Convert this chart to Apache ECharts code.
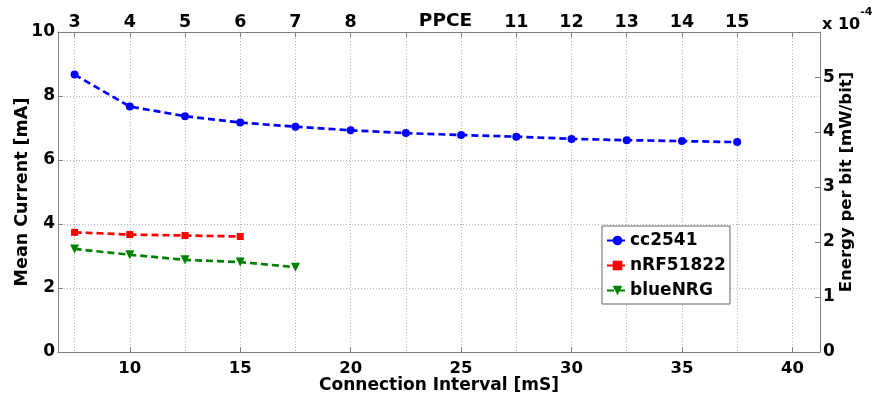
<!DOCTYPE html>
<html><head><meta charset="utf-8">
<script src="https://cdn.jsdelivr.net/npm/echarts@6/dist/echarts.min.js"></script>
<style>html,body{margin:0;padding:0;background:#fff}#c{width:872px;height:399px}</style>
</head><body><div id="c"></div>
<script>
// Connection interval (mS) for each measured point
const xCC = [7.5, 10, 12.5, 15, 17.5, 20, 22.5, 25, 27.5, 30, 32.5, 35, 37.5];
const yCC = [8.67, 7.67, 7.37, 7.17, 7.04, 6.93, 6.84, 6.78, 6.73, 6.66, 6.62, 6.59, 6.56];
const xNRF = [7.5, 10, 12.5, 15];
const yNRF = [3.74, 3.67, 3.64, 3.61];
const xBLUE = [7.5, 10, 12.5, 15, 17.5];
const yBLUE = [3.22, 3.04, 2.88, 2.81, 2.65];

const bottomTicks = [10, 15, 20, 25, 30, 35, 40];
const topTicks = [7.5, 10, 12.5, 15, 17.5, 20, 22.5, 25, 27.5, 30, 32.5, 35, 37.5, 40];
const topLabels = ['3', '4', '5', '6', '7', '8', '', '', '11', '12', '13', '14', '15', ''];
const rightTicks = [0, 1, 2, 3, 4, 5];
const seriesNames = ['cc2541', 'nRF51822', 'blueNRG'];

const FONT = 'DejaVu Sans';
const AXC = '#808080';
const zip = (xs, ys) => xs.map((x, i) => [x, ys[i]]);

const chart = echarts.init(document.getElementById('c'), null, {renderer: 'canvas'});
const lbl = (s) => ({color: '#000', fontFamily: FONT, fontWeight: 'bold', fontSize: s});
const dashed = (c) => ({color: c, width: 2.7, type: [7, 4]});

chart.setOption({
  animation: false,
  backgroundColor: '#fff',
  grid: {left: 58, right: 52, top: 32, bottom: 47, containLabel: false, outerBoundsMode: 'none'},
  xAxis: [{
    type: 'value', position: 'bottom', min: 6.75, max: 41.25,
    axisLine: {show: true, onZero: false, lineStyle: {color: AXC, width: 1}},
    axisTick: {show: true, inside: true, length: 5, customValues: bottomTicks, lineStyle: {color: AXC}},
    axisLabel: Object.assign({margin: 8, customValues: bottomTicks}, lbl(16.5)),
    splitLine: {show: false},
    name: 'Connection Interval [mS]', nameLocation: 'middle', nameGap: 25, nameMoveOverlap: false,
    nameTextStyle: lbl(17)
  }, {
    type: 'value', position: 'top', min: 6.75, max: 41.25,
    axisLine: {show: true, onZero: false, lineStyle: {color: AXC, width: 1}},
    axisTick: {show: true, inside: true, length: 5, customValues: topTicks, lineStyle: {color: AXC}},
    axisLabel: Object.assign({margin: 1, customValues: topTicks,
      formatter: (v) => { const i = topTicks.indexOf(v); return i >= 0 ? topLabels[i] : ''; }}, lbl(17.5)),
    splitLine: {show: true, lineStyle: {color: '#b4b4b4', width: 1, type: [1, 2]}},
    name: 'PPCE', nameLocation: 'middle', nameGap: 1, nameMoveOverlap: false,
    nameTextStyle: Object.assign(lbl(18.5), {padding: [0, 0, 0, 13]})
  }],
  yAxis: [{
    type: 'value', position: 'left', min: 0, max: 10, interval: 2,
    axisLine: {show: true, lineStyle: {color: AXC, width: 1}},
    axisTick: {show: true, inside: true, length: 5, lineStyle: {color: AXC}},
    axisLabel: Object.assign({margin: 3}, lbl(17)),
    splitLine: {show: true, lineStyle: {color: '#b4b4b4', width: 1, type: [1, 2]}},
    name: 'Mean Current [mA]', nameLocation: 'middle', nameGap: 27, nameMoveOverlap: false,
    nameTextStyle: lbl(17.5)
  }, {
    type: 'value', position: 'right', min: 0, max: 5.82,
    axisLine: {show: true, lineStyle: {color: AXC, width: 1}},
    axisTick: {show: true, inside: true, length: 5, customValues: rightTicks, lineStyle: {color: AXC}},
    axisLabel: Object.assign({margin: 3, customValues: rightTicks}, lbl(17)),
    splitLine: {show: false},
    name: 'Energy per bit [mW/bit]', nameLocation: 'middle', nameGap: 18, nameMoveOverlap: false,
    nameTextStyle: Object.assign(lbl(16.5), {padding: [0, 0, 0, 20]})
  }],
  graphic: [{
    type: 'text', left: 822, top: 7,
    style: {
      text: '{a|x 10}{b|-4}',
      rich: {
        a: {fontFamily: FONT, fontWeight: 'bold', fontSize: 16, fill: '#000', verticalAlign: 'bottom', padding: [10, 0, 0, 0]},
        b: {fontFamily: FONT, fontWeight: 'bold', fontSize: 11, fill: '#000', verticalAlign: 'top'}
      }
    }
  }],
  legend: {
    show: true, left: 602, top: 226, orient: 'vertical',
    backgroundColor: '#fff', borderColor: '#666', borderWidth: 1,
    padding: [6, 4, 5, 4], itemWidth: 21, itemHeight: 12, itemGap: 8, itemStyle: {},
    textStyle: {color: '#000', fontFamily: FONT, fontWeight: 'bold', fontSize: 17, padding: [0, 0, 0, -3]},
    data: seriesNames
  },
  series: [{
    name: seriesNames[0], type: 'line', data: zip(xCC, yCC), xAxisIndex: 0, yAxisIndex: 0,
    symbol: 'circle', symbolSize: 8, z: 5,
    lineStyle: dashed('#0000ff'), itemStyle: {color: '#0000ff'}
  }, {
    name: seriesNames[1], type: 'line', data: zip(xNRF, yNRF), xAxisIndex: 0, yAxisIndex: 0,
    symbol: 'rect', symbolSize: 7, z: 4,
    lineStyle: dashed('#ff0000'), itemStyle: {color: '#ff0000'}
  }, {
    name: seriesNames[2], type: 'line', data: zip(xBLUE, yBLUE), xAxisIndex: 0, yAxisIndex: 0,
    symbol: 'triangle', symbolRotate: 180, symbolSize: 9, z: 3,
    lineStyle: dashed('#008000'), itemStyle: {color: '#008000'}
  }]
});
</script></body></html>
